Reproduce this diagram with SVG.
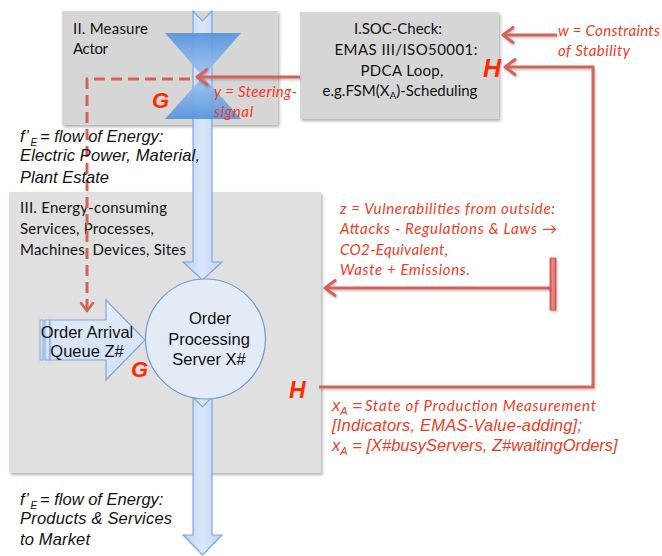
<svg xmlns="http://www.w3.org/2000/svg" width="662" height="556" viewBox="0 0 662 556">
  <style>
    .box { stroke: none; filter: url(#shadow); }
    .gill { font-family: Lato, "Open Sans", sans-serif; font-size: 15px; fill: #111; }
    .ar { font-family: "Liberation Sans", Arial, sans-serif; font-size: 16.5px; fill: #111; }
    .ari { font-family: "Liberation Sans", Arial, sans-serif; font-style: italic; font-size: 16.5px; fill: #111; }
    .red { font-family: Lato, "Open Sans", sans-serif; font-style: italic; font-size: 15px; fill: #f23a22; }
    .redar { font-family: "Liberation Sans", Arial, sans-serif; font-style: italic; font-size: 16.5px; fill: #f23a22; }
    .big { font-family: "Liberation Sans", Arial, sans-serif; font-style: italic; font-weight: bold; fill: #ff2a00; }
    .flow { fill: url(#shaftGrad); stroke: #7ea6dc; stroke-width: 1.2; }
    .wire { fill: none; stroke: #d4625b; stroke-width: 3; }
    .dash { fill: none; stroke: #d4625b; stroke-width: 3; stroke-dasharray: 11 6; }
  </style>
  <defs>
    <filter id="shadow" x="-5%" y="-5%" width="112%" height="115%">
      <feDropShadow dx="1.5" dy="2" stdDeviation="1.5" flood-color="#000" flood-opacity="0.3"/>
    </filter>
    <filter id="lshadow" filterUnits="userSpaceOnUse" x="0" y="0" width="662" height="556">
      <feDropShadow dx="1" dy="1.5" stdDeviation="1" flood-color="#000" flood-opacity="0.25"/>
    </filter>
    <linearGradient id="shaftGrad" x1="0" y1="0" x2="1" y2="0">
      <stop offset="0" stop-color="#b9d0f2"/>
      <stop offset="0.5" stop-color="#dbe8fb"/>
      <stop offset="1" stop-color="#b9d0f2"/>
    </linearGradient>
    <linearGradient id="valveGrad" x1="0" y1="33" x2="0" y2="119" gradientUnits="userSpaceOnUse">
      <stop offset="0" stop-color="#5594dc"/>
      <stop offset="0.5" stop-color="#9fc5ef"/>
      <stop offset="1" stop-color="#5594dc"/>
    </linearGradient>
    <linearGradient id="queueGrad" x1="0" y1="0" x2="0" y2="1">
      <stop offset="0" stop-color="#e4edf9"/>
      <stop offset="1" stop-color="#cfdff5"/>
    </linearGradient>
    <linearGradient id="barGrad" x1="0" y1="0" x2="1" y2="0">
      <stop offset="0" stop-color="#d85a5a"/>
      <stop offset="0.5" stop-color="#f08a88"/>
      <stop offset="1" stop-color="#d85a5a"/>
    </linearGradient>
    <marker id="ah" viewBox="0 0 14 18" refX="12" refY="9" markerWidth="14" markerHeight="18" markerUnits="userSpaceOnUse" orient="auto">
      <path d="M2,1.5 L12,9 L2,16.5" fill="none" stroke="#d4625b" stroke-width="3" stroke-linecap="round" stroke-linejoin="round"/>
    </marker>
    <marker id="ahs" viewBox="0 0 12 16" refX="10" refY="8" markerWidth="12" markerHeight="16" markerUnits="userSpaceOnUse" orient="auto">
      <path d="M2,2 L10,8 L2,14" fill="none" stroke="#d4625b" stroke-width="2.6" stroke-linecap="round" stroke-linejoin="round"/>
    </marker>
  </defs>

  <rect width="662" height="556" fill="#fff"/>

  <!-- II. Measure Actor -->
  <g id="measure-actor">
    <rect class="box" x="62" y="11" width="216" height="114" fill="#d6d6d6"/>
    <text class="gill" x="73" y="34" textLength="75">II. Measure</text>
    <text class="gill" x="73" y="54" textLength="35">Actor</text>
  </g>

  <!-- I. SOC-Check -->
  <g id="soc-check">
    <rect class="box" x="300" y="12" width="199" height="107" fill="#d6d6d6"/>
    <text class="gill" x="398" y="34" text-anchor="middle" textLength="88">I.SOC-Check:</text>
    <text class="gill" x="406" y="55" text-anchor="middle" textLength="143">EMAS III/ISO50001:</text>
    <text class="gill" x="402" y="76" text-anchor="middle" textLength="83">PDCA Loop,</text>
    <text class="gill" x="400" y="96" text-anchor="middle">e.g.FSM(X<tspan font-size="10" dy="3">A</tspan><tspan dy="-3">)-Scheduling</tspan></text>
  </g>

  <!-- III. Energy-consuming services -->
  <g id="energy-consumers">
    <rect class="box" x="9" y="192" width="312" height="281" fill="#e0e0e0"/>
    <text class="gill" x="20" y="213" textLength="147">III. Energy-consuming</text>
    <text class="gill" x="20" y="234" textLength="134">Services, Processes,</text>
    <text class="gill" x="20" y="255" textLength="166">Machines, Devices, Sites</text>
  </g>

  <!-- energy flow into the server -->
  <g id="flow-in">
    <path class="flow" d="M193,11 L202.5,21 L212,11 L212,262 L222,262 L202.5,280 L183,262 L193,262 Z"/>
  </g>

  <!-- energy flow out to market -->
  <g id="flow-out">
    <path class="flow" d="M193,397 L202.5,407 L212,397 L212,535 L222,535 L202.5,555 L183,535 L193,535 Z"/>
  </g>

  <!-- valve of the measure actor -->
  <g id="valve" opacity="0.92">
    <path d="M165,33 L241,33 L203,76.5 Z" fill="url(#valveGrad)"/>
    <path d="M203,76.5 L241,119 L165,119 Z" fill="url(#valveGrad)"/>
  </g>

  <!-- order processing server -->
  <g id="server">
    <circle cx="205.5" cy="339" r="60" fill="#e2ebf6" stroke="#6d9bd2" stroke-width="1.2"/>
    <text class="ar" x="210" y="324" text-anchor="middle">Order</text>
    <text class="ar" x="209" y="345" text-anchor="middle">Processing</text>
    <text class="ar" x="209" y="365" text-anchor="middle">Server X#</text>
  </g>

  <!-- order arrival queue -->
  <g id="queue">
    <rect x="40" y="320" width="3" height="40" fill="url(#queueGrad)" stroke="#7ea6dc" stroke-width="1"/>
    <rect x="45" y="320" width="5" height="40" fill="url(#queueGrad)" stroke="#7ea6dc" stroke-width="1"/>
    <path d="M50,320 L106,320 L106,300 L145,340 L106,380 L106,360 L50,360 Z" fill="url(#queueGrad)" stroke="#7ea6dc" stroke-width="1.2"/>
    <text class="ar" x="87" y="338" text-anchor="middle">Order Arrival</text>
    <text class="ar" x="87" y="357" text-anchor="middle">Queue Z#</text>
  </g>

  <!-- disturbance source bar -->
  <g id="vulnerabilities">
    <rect x="550" y="258" width="6" height="52" fill="url(#barGrad)" stroke="#c44c4c" stroke-width="0.8" filter="url(#lshadow)"/>
  </g>

  <!-- connectors -->
  <g id="connectors">
    <!-- steering signal y -->
    <line class="wire" x1="300" y1="77" x2="197" y2="77" marker-end="url(#ah)" filter="url(#lshadow)"/>
    <!-- dashed control path to queue -->
    <path class="dash" d="M190,79 H87 V311" marker-end="url(#ahs)"/>
    <!-- constraints w -->
    <line class="wire" x1="557" y1="35" x2="503" y2="35" marker-end="url(#ah)" filter="url(#lshadow)"/>
    <!-- feedback x_A -->
    <path class="wire" d="M319,387 H593 V67 H505" marker-end="url(#ah)" filter="url(#lshadow)"/>
    <!-- vulnerabilities z -->
    <line class="wire" x1="550" y1="288" x2="325" y2="288" marker-end="url(#ah)" filter="url(#lshadow)"/>
  </g>

  <!-- controller / plant labels -->
  <text class="big" x="152" y="108" font-size="22">G</text>
  <text class="big" x="131" y="377" font-size="22">G</text>
  <text class="big" x="483" y="77" font-size="25">H</text>
  <text class="big" x="289" y="398" font-size="23">H</text>

  <!-- signal labels -->
  <text class="red" x="214" y="97" textLength="83">y = Steering-</text>
  <text class="red" x="214" y="117" textLength="39">signal</text>

  <text class="red" x="558" y="36" textLength="102">w = Constraints</text>
  <text class="red" x="558" y="56" textLength="72">of Stability</text>

  <text class="red" x="340" y="214" textLength="215">z = Vulnerabilities from outside:</text>
  <text class="red" x="340" y="234" textLength="217">Attacks - Regulations &amp; Laws →</text>
  <text class="red" x="340" y="255" textLength="108">CO2-Equivalent,</text>
  <text class="red" x="340" y="275" textLength="130">Waste + Emissions.</text>

  <text class="redar" x="332" y="411">x<tspan font-size="11" dy="4">A</tspan><tspan dy="-4"> =</tspan></text>
  <text class="red" x="365" y="411" font-size="16" textLength="231">State of Production Measurement</text>
  <text class="redar" x="332" y="431" textLength="250">[Indicators, EMAS-Value-adding];</text>
  <text class="redar" x="332" y="451">x<tspan font-size="11" dy="4">A</tspan><tspan dy="-4"> = [X#busyServers, Z#waitingOrders]</tspan></text>

  <!-- energy flow labels -->
  <text class="ari" x="20" y="142">f’<tspan font-size="10" dy="4" dx="1.5">E</tspan><tspan dy="-4" dx="3">= flow of Energy:</tspan></text>
  <text class="ari" x="20" y="161" textLength="180">Electric Power, Material,</text>
  <text class="ari" x="20" y="183">Plant Estate</text>

  <text class="ari" x="20" y="505">f’<tspan font-size="10" dy="4" dx="1.5">E</tspan><tspan dy="-4" dx="3">= flow of Energy:</tspan></text>
  <text class="ari" x="20" y="524" textLength="152">Products &amp; Services</text>
  <text class="ari" x="20" y="545" textLength="70">to Market</text>
</svg>
